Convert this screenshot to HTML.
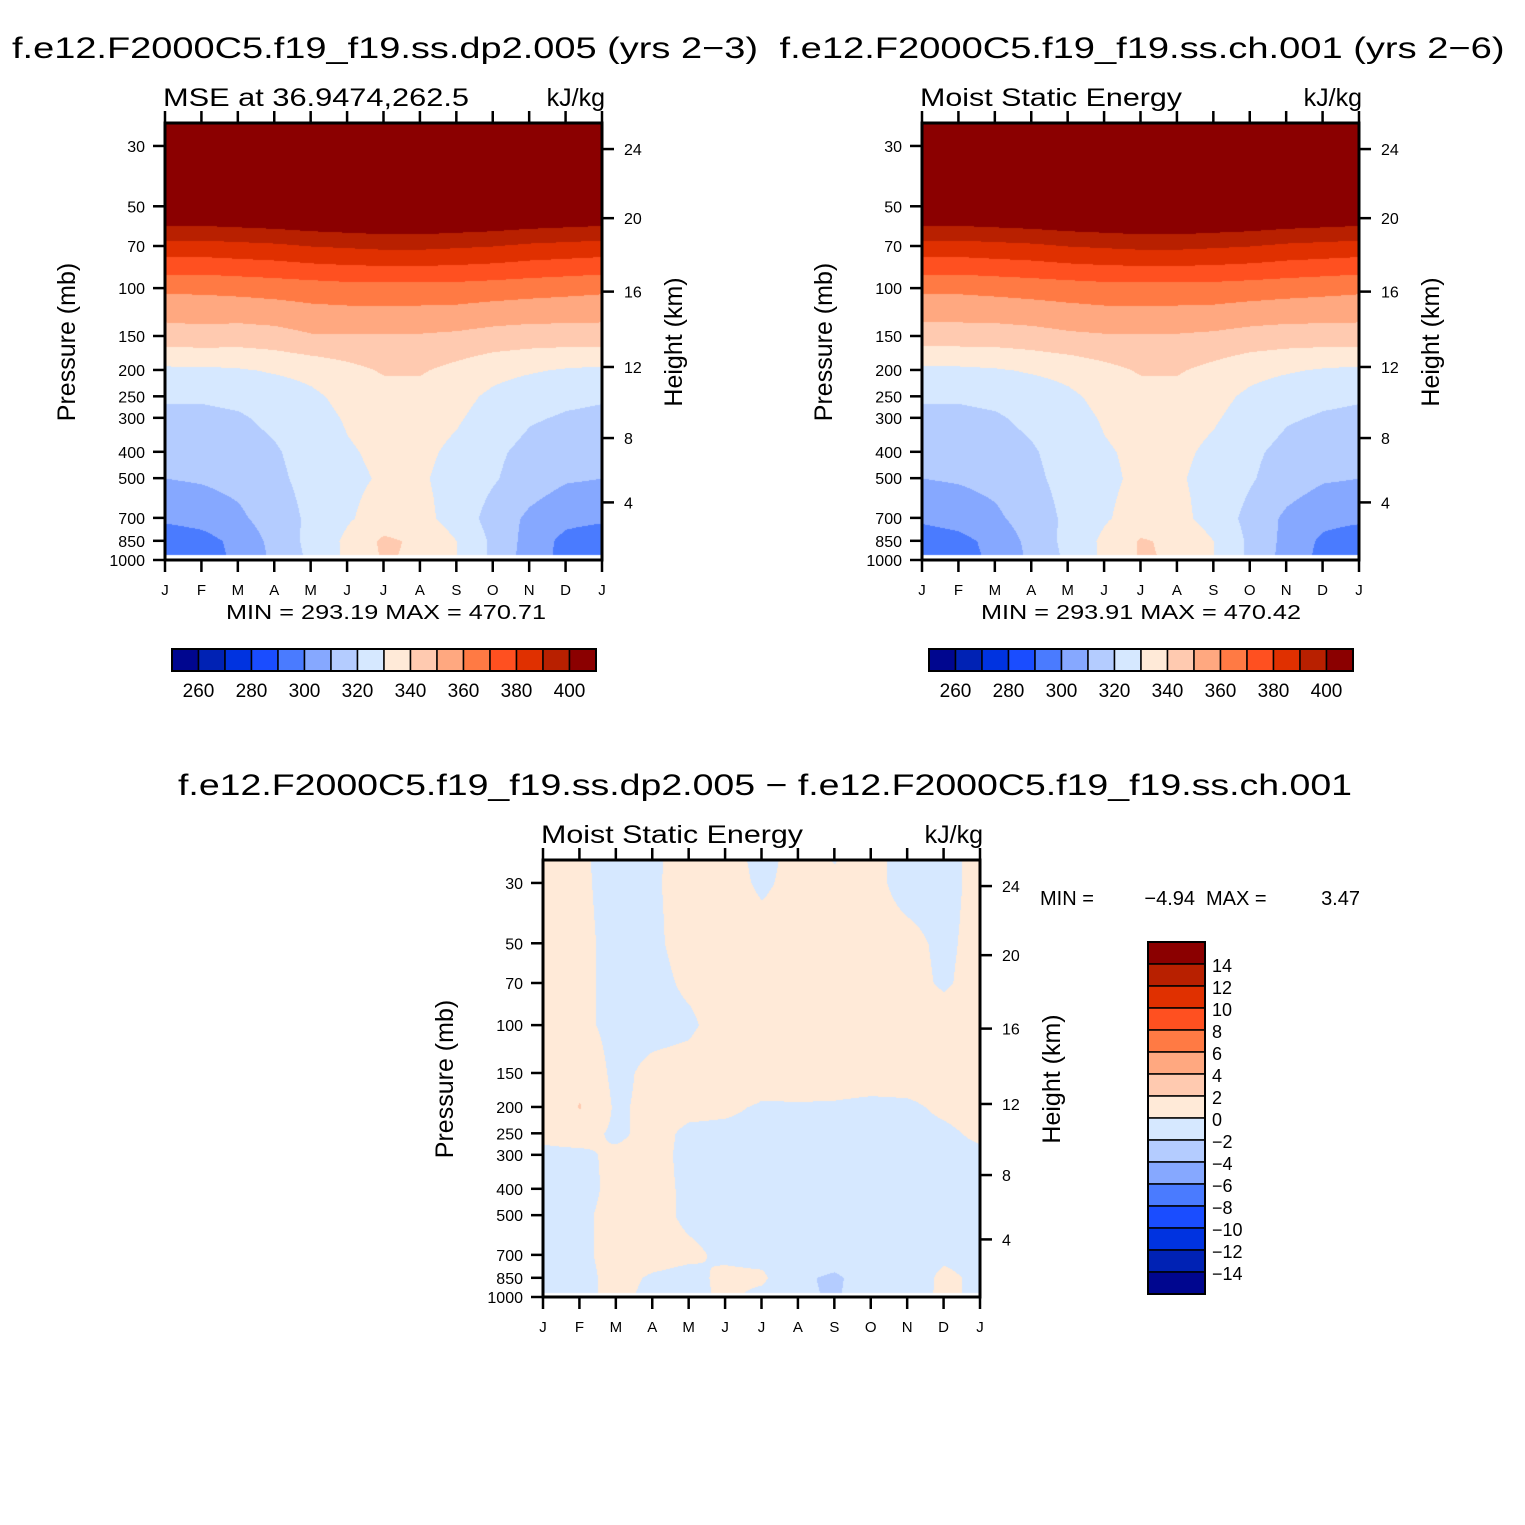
<!DOCTYPE html>
<html><head><meta charset="utf-8">
<style>
html,body{margin:0;padding:0;background:#fff;}
#wrap{position:relative;width:1525px;height:1525px;overflow:hidden;font-family:"Liberation Sans",sans-serif;}
canvas{position:absolute;}
svg{position:absolute;left:0;top:0;}
</style></head>
<body>
<div id="wrap">
<canvas id="c1" width="437" height="437" style="left:165px;top:123px"></canvas>
<canvas id="c2" width="437" height="437" style="left:922px;top:123px"></canvas>
<canvas id="c3" width="437" height="438" style="left:543px;top:860px"></canvas>
<svg id="ov" width="1525" height="1525" xmlns="http://www.w3.org/2000/svg"></svg>
</div>
<script>
// ---- data ----
const months = ["J","F","M","A","M","J","J","A","S","O","N","D","J"];
const levels = [1000,850,700,500,400,300,250,200,150,100,70,50,30,20];
const pTicks = [30,50,70,100,150,200,250,300,400,500,700,850,1000];
const heightTicks = [4,8,12,16,20,24];
const heightAsP = [614,356,195,103,55.3,30.8];
const palette = ["#00068f","#0022b4","#0033e0","#1a4dff","#4a7bff","#86a8ff","#b4ccff","#d6e8ff","#ffead8","#ffcab0","#ffa880","#ff7a44","#ff5020","#e03000","#b82000","#8b0000"];
const bounds1 = [260,270,280,290,300,310,320,330,340,350,360,370,380,390,400];
const bounds3 = [-14,-12,-10,-8,-6,-4,-2,0,2,4,6,8,10,12,14];
const cbLabels1 = [260,280,300,320,340,360,380,400];
const cbLabels3 = [14,12,10,8,6,4,2,0,-2,-4,-6,-8,-10,-12,-14];
// rows follow `levels`; columns follow `months`
const mseA = [
[292,295,302,312,322,332,341,338,330,318,305,297,292],
[293,296,303,313,323,332,342,338,330,318,306,297,293],
[302,304,308,315,322,329,334,333,326,316,308,303,302],
[310,311,313,318,323,328,331,331,327,321,315,311,310],
[313,314,316,319,324,329,332,332,328,322,317,314,313],
[318,318,319,322,326,331,334,334,331,326,321,319,318],
[321,321,322,324,328,333,336,336,333,328,324,322,321],
[328,328,329,331,333,337,341,341,337,333,331,329,328],
[345,346,345,346,349,349,349,349,348,346,345,345,345],
[362,362,363,364,365,366,366,366,366,365,364,363,362],
[386,386,387,388,390,391,392,392,391,390,388,387,386],
[413,413,414,415,416,417,418,418,417,416,415,414,413],
[450,450,451,451,452,452,452,452,452,452,451,450,450],
[478,478,479,479,480,480,480,480,480,480,479,478,478]];
const mseB = [
[293,296,302,312,322,332,341,339,330,318,306,297,293],
[294,297,303,313,323,332,341,338,330,318,307,298,294],
[302,304,308,315,322,329,334,333,326,317,308,303,302],
[310,311,313,318,323,328,332,331,327,321,315,311,310],
[313,314,316,319,324,329,332,332,328,322,317,314,313],
[318,318,319,322,326,331,334,334,331,326,321,319,318],
[321,321,322,324,328,333,336,336,333,328,324,322,321],
[328,328,329,331,333,337,341,341,337,333,331,329,328],
[345,345,345,346,348,349,349,349,348,346,345,345,345],
[362,362,363,364,365,366,366,366,366,365,364,363,362],
[386,386,387,388,390,391,392,392,391,390,388,387,386],
[413,413,414,415,416,417,418,418,417,416,415,414,413],
[450,450,451,451,452,452,452,452,452,452,451,450,450],
[478,478,479,479,480,480,480,480,480,480,479,478,478]];
const mseDiff = [
[-0.5,-0.5,0.5,-0.5,-0.5,0.3,-0.5,-1.5,-2.3,-0.5,-1.2,0.5,-0.5],
[-0.6,-0.5,0.5,-0.2,-0.5,0.4,0.3,-1.5,-2.5,-0.5,-1.5,0.6,-0.6],
[-0.8,-0.3,0.5,0.6,0.3,-0.3,-0.5,-0.6,-0.6,-0.5,-1.0,-0.5,-0.8],
[-0.5,-0.3,0.5,0.5,-0.3,-0.5,-0.5,-0.5,-0.5,-0.5,-0.5,-0.5,-0.5],
[-0.5,-0.5,0.4,0.5,-0.3,-0.5,-0.5,-0.5,-0.5,-0.5,-0.5,-0.5,-0.5],
[-0.3,-0.3,0.3,0.5,-0.4,-0.5,-0.5,-0.5,-0.5,-0.5,-0.5,-0.5,-0.3],
[0.3,0.6,-0.3,0.5,-0.3,-0.4,-0.5,-0.5,-0.5,-0.5,-0.5,-0.3,0.3],
[0.6,2.1,-0.3,0.5,0.4,0.3,-0.2,-0.3,-0.2,-0.4,-0.3,0.3,0.6],
[1.2,1.5,-0.5,0.5,0.7,1.8,0.8,1.5,0.8,0.8,0.8,0.8,1.2],
[0.8,0.5,-0.6,-0.6,-0.3,0.8,0.8,1.0,1.0,0.8,0.8,0.8,0.8],
[0.6,0.4,-0.5,-0.5,0.3,0.6,0.5,0.5,0.5,0.5,0.5,-0.2,0.6],
[0.5,0.4,-0.5,-0.3,0.6,0.6,0.5,0.5,0.5,0.5,0.4,-0.3,0.5],
[0.5,0.3,-0.6,-0.2,0.6,0.5,-0.2,0.4,0.2,0.4,-0.5,-0.5,0.5],
[0.5,0.3,-0.8,-0.3,0.6,0.5,-0.5,0.4,-0.3,0.4,-0.5,-0.5,0.5]];

// ---- axes ----
const H = 437, PTOP = 24.7;
const LR = Math.log10(1000/PTOP);
function yOfP(p){ return H - H*Math.log10(1000/p)/LR; }
function pOfY(y){ return 1000/Math.pow(10, (H-y)/H*LR); }
function xOfM(m){ return m*H/12; }
function colorIdx(v,b){ let i=0; while(i<b.length && v>=b[i]) i++; return i; }

function fillContour(id,grid,b){
  const cv=document.getElementById(id), ctx=cv.getContext('2d');
  const W=cv.width, Hh=cv.height;
  const img=ctx.createImageData(W,Hh);
  const rgb=palette.map(h=>[parseInt(h.slice(1,3),16),parseInt(h.slice(3,5),16),parseInt(h.slice(5,7),16)]);
  const lp=levels.map(p=>Math.log10(p));
  for(let y=0;y<Hh;y++){
    const l=Math.log10(pOfY(Math.min(y,H)));
    let r=0; while(r<levels.length-2 && l<lp[r+1]) r++;
    let ty=(lp[r]-l)/(lp[r]-lp[r+1]); ty=Math.max(0,Math.min(1,ty));
    for(let x=0;x<W;x++){
      const m=x/W*12; let c=Math.min(11,Math.floor(m)); const tx=m-c;
      const v=(grid[r][c]*(1-tx)+grid[r][c+1]*tx)*(1-ty)+(grid[r+1][c]*(1-tx)+grid[r+1][c+1]*tx)*ty;
      let col=rgb[colorIdx(v,b)];
      if(y>=Hh-5) col=[255,255,255];
      const k=(y*W+x)*4; img.data[k]=col[0];img.data[k+1]=col[1];img.data[k+2]=col[2];img.data[k+3]=255;
    }
  }
  ctx.putImageData(img,0,0);
}
fillContour('c1',mseA,bounds1);
fillContour('c2',mseB,bounds1);
fillContour('c3',mseDiff,bounds3);

// ---- svg overlay ----
const NS="http://www.w3.org/2000/svg", ov=document.getElementById('ov');
function el(tag,attrs,txt){ const e=document.createElementNS(NS,tag); for(const k in attrs) e.setAttribute(k,attrs[k]); if(txt!==undefined) e.textContent=txt; ov.appendChild(e); return e; }
function text(x,y,s,size,anchor,len,name){
  const a={x:x,y:y,'font-size':size,'text-anchor':anchor||'start','font-family':'Liberation Sans, sans-serif',fill:'#000'};
  if(len){a.textLength=len;a.lengthAdjust='spacingAndGlyphs';}
  const t=el('text',a,s);
  
  
  return t;
}
function panel(x0,y0,sub,pre){
  const f=el('rect',{x:x0,y:y0,width:H,height:H,fill:'none',stroke:'#000','stroke-width':3});
  
  
  months.forEach((m,i)=>{
    const x=x0+xOfM(i);
    const t1=el('line',{x1:x,y1:y0+H,x2:x,y2:y0+H+12,stroke:'#000','stroke-width':2.5});
    
    
    const t2=el('line',{x1:x,y1:y0,x2:x,y2:y0-12,stroke:'#000','stroke-width':2.5});
    
    
    text(x,y0+H+35,m,15,'middle',null,pre+'-month-label');
  });
  pTicks.forEach(p=>{
    const y=y0+yOfP(p);
    const t=el('line',{x1:x0,y1:y,x2:x0-12,y2:y,stroke:'#000','stroke-width':2.5});
    
    
    text(x0-20,y+6,String(p),16,'end',null,pre+'-pressure-label');
  });
  heightTicks.forEach((h,i)=>{
    const y=y0+yOfP(heightAsP[i]);
    const t=el('line',{x1:x0+H,y1:y,x2:x0+H+12,y2:y,stroke:'#000','stroke-width':2.5});
    
    
    text(x0+H+22,y+6,String(h),16,'start',null,pre+'-height-label');
  });
  const ya=text(0,0,'Pressure (mb)',25,'middle',null,pre+'-y-axis-title');
  ya.setAttribute('transform','translate('+(x0-90)+','+(y0+219)+') rotate(-90)');
  const ha=text(0,0,'Height (km)',25,'middle',null,pre+'-height-axis-title');
  ha.setAttribute('transform','translate('+(x0+H+80)+','+(y0+219)+') rotate(-90)');
  text(x0-2,y0-17,sub[0],25,'start',sub[1],pre+'-subtitle');
  text(x0+H+3,y0-17,'kJ/kg',25,'end',null,pre+'-units');
}
function hbar(x0,y0,pre){
  const w=424/16;
  palette.forEach((c,i)=>{
    const r=el('rect',{x:x0+i*w,y:y0,width:w,height:22,fill:c,stroke:'#000','stroke-width':1.5});
    
    
  });
  const o=el('rect',{x:x0,y:y0,width:424,height:22,fill:'none',stroke:'#000','stroke-width':2});
  
  
  cbLabels1.forEach(v=>{
    const i=bounds1.indexOf(v)+1;
    text(x0+i*w,y0+48,String(v),19,'middle',null,pre+'-colorbar-label');
  });
}
text(385,58,'f.e12.F2000C5.f19_f19.ss.dp2.005 (yrs 2\u22123)',30,'middle',746,'title-left');
text(1142,58,'f.e12.F2000C5.f19_f19.ss.ch.001 (yrs 2\u22126)',30,'middle',725,'title-right');
panel(165,123,['MSE at 36.9474,262.5',306],'p1');
panel(922,123,['Moist Static Energy',262],'p2');
text(386,619,'MIN = 293.19 MAX = 470.71',20,'middle',320,'p1-minmax');
text(1141,619,'MIN = 293.91 MAX = 470.42',20,'middle',320,'p2-minmax');
hbar(172,649,'p1');
hbar(929,649,'p2');
text(765,795,'f.e12.F2000C5.f19_f19.ss.dp2.005 \u2212 f.e12.F2000C5.f19_f19.ss.ch.001',30,'middle',1174,'title-diff');
panel(543,860,['Moist Static Energy',262],'p3');
text(1040,905,'MIN =',20,'start',null,'p3-min-label');
text(1195,905,'\u22124.94',20,'end',null,'p3-min-value');
text(1206,905,'MAX =',20,'start',null,'p3-max-label');
text(1360,905,'3.47',20,'end',null,'p3-max-value');
// vertical colorbar
(function(){
  const x0=1148,y0=942,h=22;
  palette.slice().reverse().forEach((c,i)=>{
    const r=el('rect',{x:x0,y:y0+i*h,width:57,height:h,fill:c,stroke:'#000','stroke-width':1.5});
    
    
  });
  const o=el('rect',{x:x0,y:y0,width:57,height:16*h,fill:'none',stroke:'#000','stroke-width':2});
  
  
  cbLabels3.forEach((v,i)=>{
    text(1212,y0+(i+1)*h+8,(v<0?'\u2212'+(-v):String(v)),18,'start',null,'p3-colorbar-label');
  });
})();
</script>
</body></html>
